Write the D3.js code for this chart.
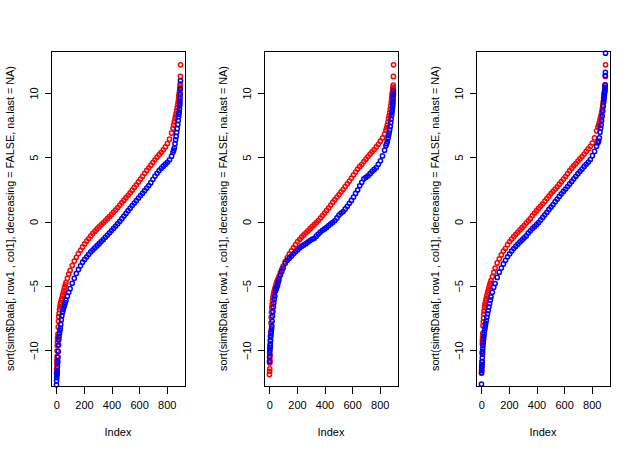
<!DOCTYPE html>
<html>
<head>
<meta charset="utf-8">
<script src="https://cdn.jsdelivr.net/npm/d3@7"></script>
<style>
  body { margin: 0; background: #fff; }
  svg { display: block; }
</style>
</head>
<body>
<script>
const sortIndex = [
  1, 2, 3, 4, 5, 6, 7, 8, 9, 10, 12, 14, 16, 18, 20, 23, 26, 29, 32, 36, 40, 45, 50, 55, 60, 65, 70, 80, 90, 100,
  115, 130, 145, 160, 175, 190, 205, 220, 235, 250, 265, 280, 295, 310, 325, 340, 355, 370, 385, 400, 415, 430, 445,
  460, 475, 490, 505, 520, 535, 550, 565, 580, 595, 610, 625, 640, 655, 670, 685, 700, 715, 730, 745, 760, 775, 790,
  805, 820, 835,
  845, 850, 855, 860, 864, 868, 872, 876, 880, 883, 886, 888, 890, 892, 894, 895, 896, 897, 898, 899, 900
];

// panel 1
const p1Red = [
  -11.80, -11.45, -11.10, -10.80, -10.50, -10.05, -9.65, -9.40, -9.15, -9.00, -8.75, -8.20, -7.75, -7.40, -7.15,
  -6.85, -6.65, -6.45, -6.30, -6.12, -5.98, -5.75, -5.55, -5.35, -5.12, -4.92, -4.75, -4.42, -4.08, -3.80,
  -3.42, -3.08, -2.78, -2.50, -2.24, -1.98, -1.74, -1.52, -1.32, -1.12, -0.92, -0.75, -0.58, -0.42, -0.26, -0.10,
  0.06, 0.22, 0.38, 0.55, 0.73, 0.90, 1.08, 1.28, 1.47, 1.66, 1.85, 2.04, 2.23, 2.44, 2.65, 2.86, 3.08, 3.30, 3.52,
  3.75, 3.97, 4.18, 4.38, 4.60, 4.80, 5.00, 5.20, 5.38, 5.58, 5.80, 6.06, 6.40, 6.88,
  7.25, 7.50, 7.75, 8.00, 8.20, 8.40, 8.62, 8.85, 9.10, 9.30, 9.55, 9.75, 9.90, 10.05, 10.20, 10.30, 10.40, 10.55,
  10.70, 11.28, 12.18
];
const p1Blue = [
  -12.70, -12.40, -12.15, -11.95, -11.85, -11.75, -11.62, -11.30, -11.00, -10.85, -10.55, -10.10, -9.60, -9.20, -8.95,
  -8.70, -8.48, -8.30, -8.00, -7.65, -7.32, -7.05, -6.85, -6.65, -6.48, -6.30, -6.12, -5.82, -5.50, -5.22,
  -4.80, -4.42, -4.05, -3.74, -3.45, -3.16, -2.95, -2.74, -2.55, -2.36, -2.20, -2.04, -1.88, -1.72, -1.56, -1.40,
  -1.23, -1.05, -0.88, -0.70, -0.53, -0.35, -0.17, 0.02, 0.22, 0.42, 0.63, 0.84, 1.04, 1.24, 1.43, 1.62, 1.82, 2.02,
  2.20, 2.40, 2.60, 2.80, 3.02, 3.28, 3.53, 3.75, 3.96, 4.14, 4.30, 4.46, 4.60, 4.80, 5.08,
  5.38, 5.55, 5.72, 6.05, 6.35, 6.62, 6.92, 7.22, 7.55, 7.85, 8.15, 8.35, 8.50, 8.75, 9.00, 9.15, 9.35, 9.60, 9.90,
  10.30, 10.94
];

// panel 2
const p2Red = [
  -11.90, -11.65, -11.45, -11.00, -10.80, -10.40, -9.80, -9.25, -8.90, -8.60, -7.90, -7.45, -7.05, -6.70, -6.45,
  -6.15, -5.92, -5.72, -5.55, -5.40, -5.22, -5.02, -4.85, -4.70, -4.58, -4.42, -4.28, -3.98, -3.72, -3.47,
  -3.12, -2.80, -2.52, -2.28, -2.03, -1.80, -1.56, -1.38, -1.20, -1.04, -0.88, -0.72, -0.56, -0.40, -0.25, -0.08,
  0.08, 0.27, 0.46, 0.66, 0.86, 1.06, 1.28, 1.50, 1.70, 1.90, 2.10, 2.30, 2.50, 2.72, 2.93, 3.15, 3.38, 3.62, 3.85,
  4.08, 4.28, 4.45, 4.66, 4.85, 5.05, 5.24, 5.42, 5.60, 5.80, 6.00, 6.25, 6.50, 6.80,
  7.10, 7.28, 7.50, 7.75, 8.00, 8.22, 8.45, 8.72, 9.00, 9.25, 9.50, 9.70, 9.88, 10.02, 10.15, 10.25, 10.35, 10.45,
  10.60, 11.28, 12.18
];
const p2Blue = [
  -10.90, -10.55, -10.20, -10.00, -9.80, -9.65, -9.50, -9.25, -9.00, -8.88, -8.72, -8.55, -8.35, -8.15, -7.75,
  -7.35, -7.00, -6.65, -6.35, -6.05, -5.80, -5.40, -5.22, -5.08, -4.95, -4.70, -4.52, -4.15, -3.88, -3.62,
  -3.25, -3.02, -2.85, -2.68, -2.52, -2.36, -2.20, -2.05, -1.92, -1.82, -1.72, -1.60, -1.48, -1.38, -1.30, -1.14,
  -0.98, -0.82, -0.68, -0.58, -0.46, -0.32, -0.18, -0.06, 0.08, 0.28, 0.50, 0.66, 0.78, 0.98, 1.18, 1.42, 1.64, 1.90,
  2.18, 2.45, 2.78, 3.05, 3.32, 3.44, 3.55, 3.72, 3.90, 4.05, 4.20, 4.45, 4.72, 5.10, 5.55,
  5.90, 6.05, 6.22, 6.45, 6.68, 6.88, 7.12, 7.38, 7.70, 7.95, 8.25, 8.45, 8.62, 8.80, 9.00, 9.15, 9.33, 9.55, 9.80,
  9.95, 10.16
];

// panel 3
const p3Red = [
  -11.80, -11.60, -11.40, -11.15, -10.90, -10.20, -9.50, -9.25, -9.00, -8.70, -8.10, -7.80, -7.50, -7.20, -6.95,
  -6.70, -6.50, -6.32, -6.15, -5.98, -5.78, -5.55, -5.35, -5.15, -4.95, -4.78, -4.60, -4.28, -3.95, -3.62,
  -3.22, -2.90, -2.60, -2.30, -2.08, -1.80, -1.56, -1.36, -1.17, -1.00, -0.82, -0.64, -0.48, -0.32, -0.12, 0.05,
  0.22, 0.46, 0.66, 0.84, 1.02, 1.20, 1.38, 1.58, 1.78, 1.98, 2.17, 2.35, 2.52, 2.70, 2.90, 3.10, 3.30, 3.50, 3.72,
  3.95, 4.15, 4.34, 4.50, 4.70, 4.88, 5.05, 5.25, 5.45, 5.65, 5.85, 6.10, 6.50, 7.05,
  7.35, 7.50, 7.70, 7.90, 8.08, 8.28, 8.50, 8.75, 9.05, 9.30, 9.60, 9.80, 9.95, 10.05, 10.15, 10.25, 10.35, 10.45,
  10.60, 11.28, 12.18
];
const p3Blue = [
  -12.65, -11.75, -11.55, -11.30, -11.10, -10.90, -10.60, -10.30, -10.10, -9.90, -9.65, -9.40, -9.15, -8.95, -8.75,
  -8.50, -8.30, -8.12, -7.92, -7.70, -7.45, -7.18, -6.92, -6.65, -6.38, -6.10, -5.88, -5.50, -5.12, -4.82,
  -4.35, -3.94, -3.62, -3.30, -3.02, -2.75, -2.52, -2.30, -2.10, -1.92, -1.75, -1.58, -1.43, -1.28, -1.12, -0.90,
  -0.72, -0.55, -0.40, -0.25, -0.08, 0.12, 0.32, 0.52, 0.72, 0.94, 1.12, 1.32, 1.54, 1.75, 1.95, 2.15, 2.34, 2.52,
  2.72, 2.92, 3.12, 3.32, 3.52, 3.72, 3.90, 4.08, 4.28, 4.45, 4.62, 4.82, 5.12, 5.45, 5.85,
  6.12, 6.25, 6.50, 6.95, 7.25, 7.50, 7.85, 8.20, 8.60, 8.95, 9.25, 9.45, 9.65, 9.85, 10.05, 10.20, 10.40, 10.62,
  11.35, 11.60, 13.09
];

const xTicks = [0, 200, 400, 600, 800];
const yTicks = [-10, -5, 0, 5, 10];
const xTitle = "Index";
const yTitle = "sort(sim$Data[, row1 , col1], decreasing = FALSE, na.last = NA)";

const panels = [
  { red: p1Red, blue: p1Blue },
  { red: p2Red, blue: p2Blue },
  { red: p3Red, blue: p3Blue }
];

const width = 637, height = 451;
const font = "'Liberation Sans', Arial, Helvetica, sans-serif";

const svg = d3.select("body").append("svg")
  .attr("width", width)
  .attr("height", height);

panels.forEach((p, i) => {
  // plot box of this panel (three equal columns, R style margins)
  const left = Math.round(i * width / 3 + 51.3);
  const right = left + 134;
  const top = 51, bottom = 386;

  const x = d3.scaleLinear().domain([-35, 936]).range([left + 0.5, right + 0.5]);
  const y = d3.scaleLinear().domain([-12.83, 13.22]).range([bottom + 0.5, top + 0.5]);

  const g = svg.append("g");

  // points: red first, blue drawn over it
  [["#ff0000", p.red], ["#0000ff", p.blue]].forEach(([col, vals]) => {
    g.append("g")
      .selectAll("circle")
      .data(vals.map((v, k) => ({ i: sortIndex[k], v: v })))
      .enter()
      .append("circle")
      .attr("cx", d => x(d.i))
      .attr("cy", d => y(d.v))
      .attr("r", 2.1)
      .attr("fill", "none")
      .attr("stroke", col)
      .attr("stroke-width", 1.5);
  });

  // box
  g.append("rect")
    .attr("x", left + 0.5)
    .attr("y", top + 0.5)
    .attr("width", right - left)
    .attr("height", bottom - top)
    .attr("fill", "none")
    .attr("stroke", "#000")
    .attr("stroke-width", 1)
    .attr("shape-rendering", "crispEdges");

  // x axis
  const xa = g.append("g")
    .attr("transform", `translate(0,${bottom + 0.5})`)
    .call(d3.axisBottom(x).tickValues(xTicks).tickSize(7).tickPadding(8).tickSizeOuter(0));
  xa.select(".domain").remove();
  xa.selectAll("line").attr("shape-rendering", "crispEdges");
  xa.selectAll("text")
    .attr("font-family", font)
    .attr("font-size", 11)
    .attr("fill", "#000");

  // y axis, labels parallel to the axis
  const ya = g.append("g")
    .attr("transform", `translate(${left + 0.5},0)`)
    .call(d3.axisLeft(y).tickValues(yTicks).tickSize(7).tickSizeOuter(0));
  ya.select(".domain").remove();
  ya.selectAll("line").attr("shape-rendering", "crispEdges");
  ya.selectAll("text")
    .attr("x", null)
    .attr("dy", null)
    .attr("transform", "translate(-13.5,0) rotate(-90)")
    .attr("text-anchor", "middle")
    .attr("font-family", font)
    .attr("font-size", 11)
    .attr("fill", "#000");

  // axis titles
  g.append("text")
    .attr("x", (left + right) / 2)
    .attr("y", 435.5)
    .attr("text-anchor", "middle")
    .attr("font-family", font)
    .attr("font-size", 11)
    .text(xTitle);

  g.append("text")
    .attr("transform", `translate(${left - 37.5},${(top + bottom) / 2}) rotate(-90)`)
    .attr("text-anchor", "middle")
    .attr("font-family", font)
    .attr("font-size", 10.8)
    .text(yTitle);
});
</script>
</body>
</html>
